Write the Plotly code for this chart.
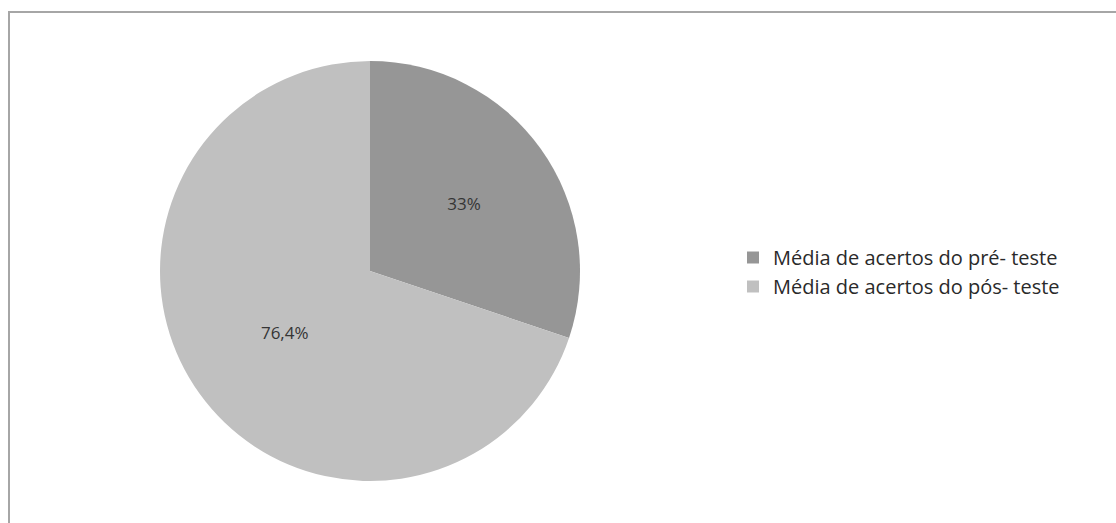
import plotly.graph_objects as go

labels = ["Média de acertos do pré- teste", "Média de acertos do pós- teste"]
values = [33, 76.4]
value_text = ["33%", "76,4%"]
colors = ["#969696", "#c0c0c0"]

W, H = 1116, 523
cx, cy, r = 370, 271, 210

fig = go.Figure()
fig.add_trace(go.Pie(
    labels=labels,
    values=values,
    text=value_text,
    textinfo="text",
    textposition="inside",
    insidetextorientation="horizontal",
    textfont=dict(family="Open Sans, sans-serif", size=17, color="#353535"),
    marker=dict(colors=colors, line=dict(width=0)),
    sort=False,
    direction="clockwise",
    rotation=0,
    hole=0,
    domain=dict(x=[(cx - r) / W, (cx + r) / W], y=[1 - (cy + r) / H, 1 - (cy - r) / H]),
))

fig.update_layout(
    width=W, height=H,
    margin=dict(l=0, r=0, t=0, b=0),
    paper_bgcolor="white",
    plot_bgcolor="white",
    showlegend=True,
    legend=dict(
        x=733 / W, y=1 - 238 / H, xanchor="left", yanchor="top",
        font=dict(family="Open Sans, sans-serif", size=20, color="#2a2a2a"),
        itemwidth=30,
        bgcolor="rgba(0,0,0,0)",
    ),
    shapes=[dict(
        type="rect", xref="paper", yref="paper",
        x0=9 / W, x1=1.01, y0=-0.01, y1=1 - 12 / H,
        line=dict(color="#a6a6a6", width=2),
        fillcolor="rgba(0,0,0,0)",
    )],
)

fig.write_html("out.html")
